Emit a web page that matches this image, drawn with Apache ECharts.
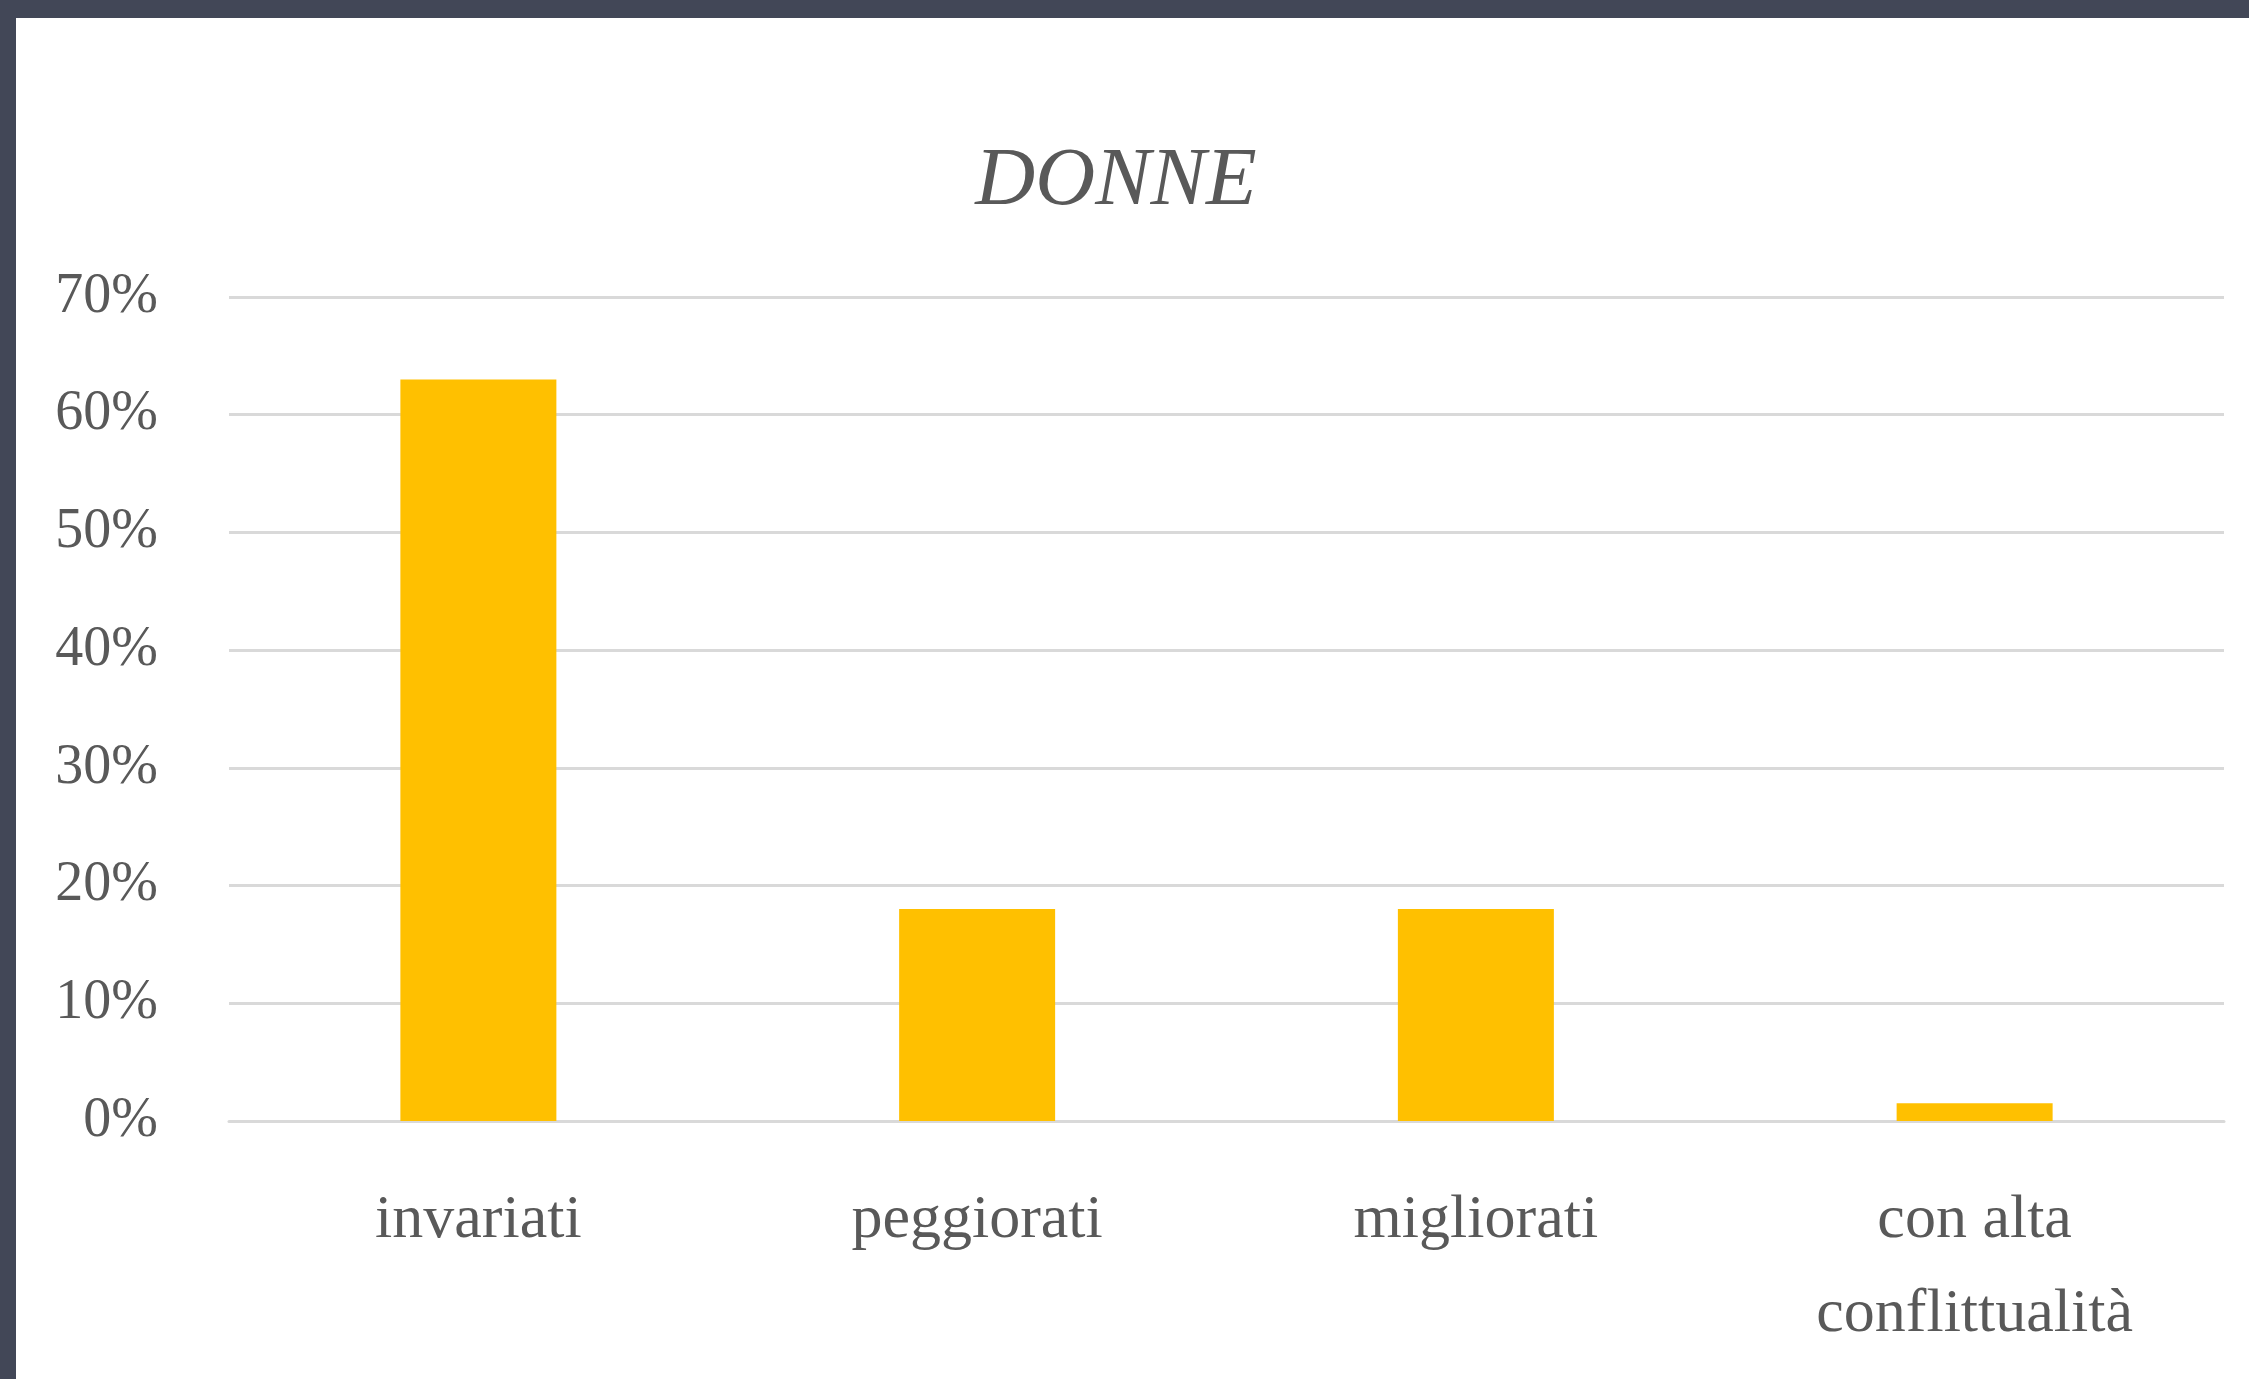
<!DOCTYPE html>
<html>
<head>
<meta charset="utf-8">
<script src="https://cdn.jsdelivr.net/npm/echarts@6/dist/echarts.min.js"></script>
<style>
  html, body {
    margin: 0;
    padding: 0;
    width: 2249px;
    height: 1379px;
    background: #424757;
    overflow: hidden;
  }
  #chart {
    position: absolute;
    left: 16px;
    top: 18px;
    width: 2233px;
    height: 1361px;
    background: #ffffff;
  }
</style>
</head>
<body>
<div id="chart"></div>
<script>
  const categories = ['invariati', 'peggiorati', 'migliorati', 'con alta\nconflittualità']
  const values = [63, 18, 18, 1.5]
  const yTicks = [0, 10, 20, 30, 40, 50, 60, 70]

  const textColor = '#595959'
  const font = 'Liberation Serif'

  const chart = echarts.init(document.getElementById('chart'))

  const option = {
    animation: false,
    title: {
      text: 'DONNE',
      left: 1095,
      top: 118,
      textAlign: 'center',
      textStyle: {
        fontFamily: font,
        fontStyle: 'italic',
        fontWeight: 'normal',
        fontSize: 83,
        color: textColor
      }
    },
    grid: {
      left: 213,
      right: 25,
      top: 279,
      bottom: 258
    },
    xAxis: {
      type: 'category',
      data: categories,
      axisLine: {
        show: true,
        lineStyle: { color: '#d9d9d9', width: 3 }
      },
      axisTick: { show: false },
      axisLabel: {
        interval: 0,
        margin: 53,
        fontFamily: font,
        fontSize: 62,
        lineHeight: 94,
        color: textColor
      }
    },
    yAxis: {
      type: 'value',
      min: yTicks[0],
      max: yTicks[yTicks.length - 1],
      interval: 10,
      axisLine: { show: false },
      axisTick: { show: false },
      splitLine: {
        lineStyle: { color: '#d9d9d9', width: 3 }
      },
      axisLabel: {
        margin: 71,
        formatter: '{value}%',
        fontFamily: font,
        fontSize: 56,
        color: textColor
      }
    },
    series: [
      {
        type: 'bar',
        data: values,
        barWidth: 156,
        itemStyle: { color: '#ffc000' }
      }
    ]
  }

  chart.setOption(option)
</script>
</body>
</html>
